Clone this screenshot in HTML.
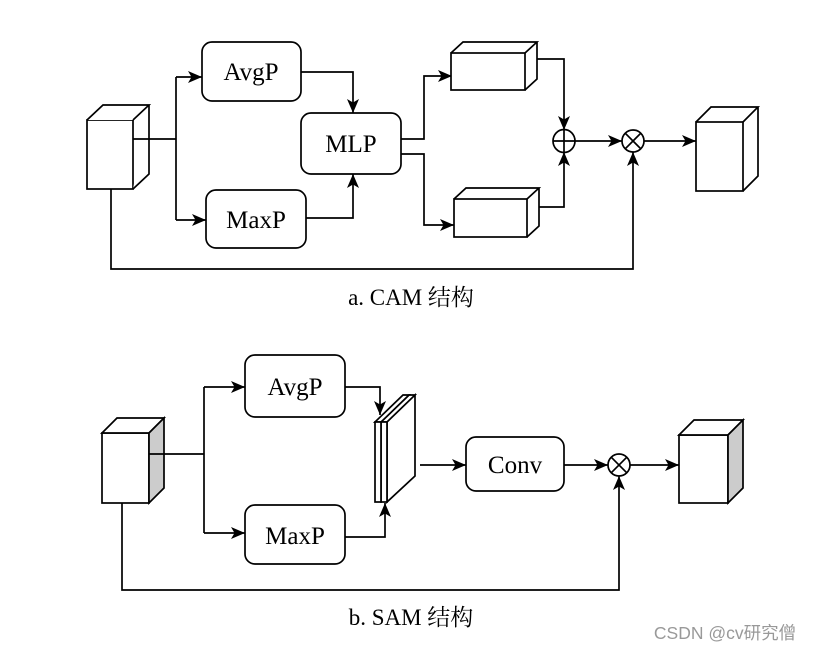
<!DOCTYPE html>
<html><head><meta charset="utf-8"><style>
html,body{margin:0;padding:0;background:#fff;}
svg{display:block;}
text{font-family:"Liberation Serif","Noto Serif CJK SC",serif;fill:#000;}
</style></head><body>
<svg width="814" height="650" viewBox="0 0 814 650" xmlns="http://www.w3.org/2000/svg">
<defs>
<marker id="a" viewBox="0 0 14 12" refX="14" refY="6" markerWidth="14" markerHeight="12" markerUnits="userSpaceOnUse" orient="auto">
<path d="M0,0 L14,6 L0,12 L3.5,6 Z" fill="#000"/>
</marker>
</defs>
<g fill="none" stroke="#000" stroke-width="1.7">
<rect x="87" y="120" width="46" height="69" fill="#fff"/>
<path d="M87,120 L103,105 L149,105 L133,120 M149,105 L149,174 L133,189" fill="#fff"/>
<path d="M133,139 H176 M176,77 V220"/>
<path d="M176,77 H202" marker-end="url(#a)"/>
<path d="M176,220 H206" marker-end="url(#a)"/>
<rect x="202" y="42" width="99" height="59" rx="10" fill="#fff"/>
<rect x="206" y="190" width="100" height="58" rx="10" fill="#fff"/>
<path d="M301,72 H353 V113" marker-end="url(#a)"/>
<path d="M306,218 H353 V174" marker-end="url(#a)"/>
<rect x="301" y="113" width="100" height="61" rx="10" fill="#fff"/>
<path d="M401,139 H424 V76 H452" marker-end="url(#a)"/>
<path d="M401,154 H424 V225 H454" marker-end="url(#a)"/>
<rect x="451" y="53" width="74" height="37" fill="#fff"/>
<path d="M451,53 L463,42 L537,42 L525,53 M537,42 V79 L525,90"/>
<rect x="454" y="199" width="73" height="38" fill="#fff"/>
<path d="M454,199 L466,188 L539,188 L527,199 M539,188 V226 L527,237"/>
<path d="M537,59 H564 V130" marker-end="url(#a)"/>
<path d="M539,207 H564 V152" marker-end="url(#a)"/>
<ellipse cx="564" cy="141" rx="11" ry="11.5"/>
<path d="M553,141 H575 M564,129.5 V152.5"/>
<path d="M575,141 H622" marker-end="url(#a)"/>
<circle cx="633" cy="141" r="11"/>
<path d="M625.2,133.2 L640.8,148.8 M640.8,133.2 L625.2,148.8"/>
<path d="M644,141 H696" marker-end="url(#a)"/>
<rect x="696" y="122" width="47" height="69" fill="#fff"/>
<path d="M696,122 L711,107 L758,107 L743,122 M758,107 V176 L743,191"/>
<path d="M111,189 V269 H633 V152" marker-end="url(#a)"/>

<rect x="102" y="433" width="47" height="70" fill="#fff"/>
<path d="M102,433 L117,418 L164,418 L149,433 Z" fill="#fff"/>
<path d="M149,433 L164,418 L164,488 L149,503 Z" fill="#ccc"/>
<path d="M149,454 H204 M204,387 V533"/>
<path d="M204,387 H245" marker-end="url(#a)"/>
<path d="M204,533 H245" marker-end="url(#a)"/>
<rect x="245" y="355" width="100" height="62" rx="10" fill="#fff"/>
<rect x="245" y="505" width="100" height="59" rx="10" fill="#fff"/>
<path d="M381,422 L409,395 L415,395 L387,422 Z M387,422 L415,395 V476 L387,502 Z" fill="#fff"/>
<rect x="381" y="422" width="6" height="80" fill="#fff"/>
<path d="M375,422 L403,395 L409,395 L381,422 Z" fill="#fff"/>
<rect x="375" y="422" width="6" height="80" fill="#fff"/>
<path d="M345,387 H380 V415" marker-end="url(#a)"/>
<path d="M345,537 H385 V503" marker-end="url(#a)"/>
<path d="M420,465 H466" marker-end="url(#a)"/>
<rect x="466" y="437" width="98" height="54" rx="10" fill="#fff"/>
<path d="M564,465 H608" marker-end="url(#a)"/>
<circle cx="619" cy="465" r="11"/>
<path d="M611.2,457.2 L626.8,472.8 M626.8,457.2 L611.2,472.8"/>
<path d="M630,465 H679" marker-end="url(#a)"/>
<rect x="679" y="435" width="49" height="68" fill="#fff"/>
<path d="M679,435 L694,420 L743,420 L728,435 Z" fill="#fff"/>
<path d="M728,435 L743,420 L743,488 L728,503 Z" fill="#ccc"/>
<path d="M122,503 V590 H619 V476" marker-end="url(#a)"/>
</g>
<g font-size="25" text-anchor="middle">
<text x="251" y="80">AvgP</text>
<text x="256" y="228">MaxP</text>
<text x="351" y="152">MLP</text>
<text x="295" y="395">AvgP</text>
<text x="295" y="544">MaxP</text>
<text x="515" y="473">Conv</text>
</g>
<text x="411" y="305" font-size="23" text-anchor="middle">a. CAM 结构</text>
<text x="411" y="625" font-size="23" text-anchor="middle">b. SAM 结构</text>
<text x="725" y="639" font-size="17.5" text-anchor="middle" style="font-family:'Liberation Sans','Noto Sans CJK SC',sans-serif;fill:#999">CSDN @cv研究僧</text>
</svg>
</body></html>
